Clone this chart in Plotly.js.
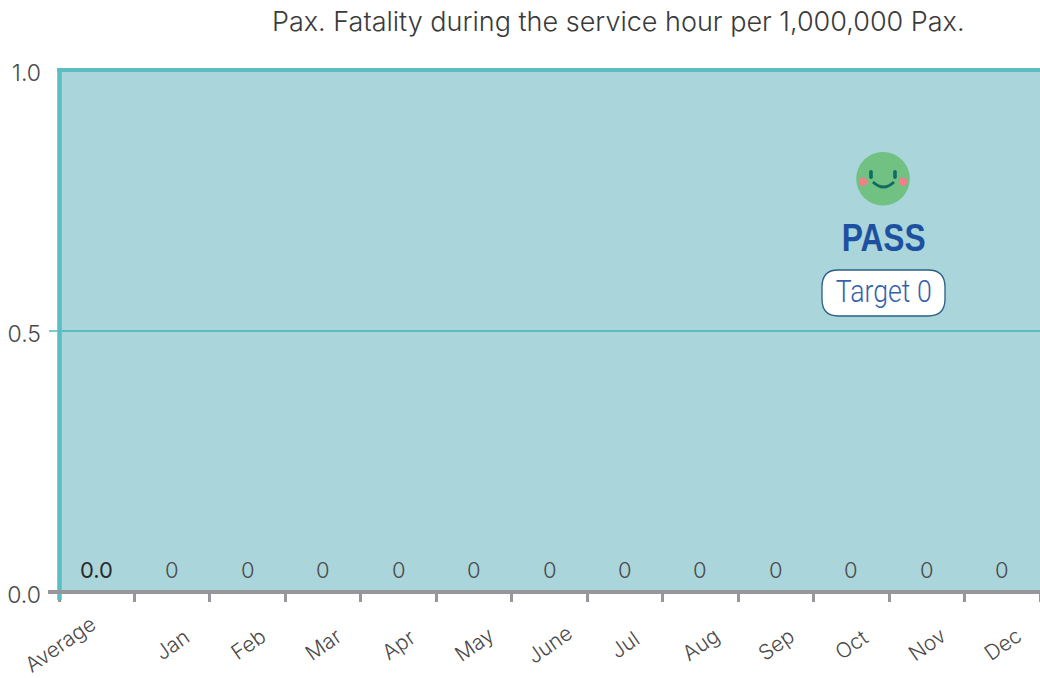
<!DOCTYPE html>
<html><head><meta charset="utf-8">
<script src="https://cdn.plot.ly/plotly-3.0.1.min.js"></script>
<style>html,body{margin:0;padding:0;background:#fff}#c{width:1040px;height:678px}</style>
</head><body><div id="c"></div>
<script>
const categories = ['Average','Jan','Feb','Mar','Apr','May','June','Jul','Aug','Sep','Oct','Nov','Dec'];
const values = [0,0,0,0,0,0,0,0,0,0,0,0,0];
const valueLabels = ['0.0','0','0','0','0','0','0','0','0','0','0','0','0'];
const yTicks = [0,0.5,1];
const yTickLabels = ['0.0','0.5','1.0'];
const chartTitle = 'Pax. Fatality during the service hour per 1,000,000 Pax.';
const passLabel = 'PASS';
const targetLabel = 'Target 0';

const W=1040,H=678,L=59,R=1040,T=70,B=592;
const fx=p=>(p-L)/(R-L), fy=p=>(B-p)/(B-T);
const LIGHT='Inter, "Liberation Sans", sans-serif';
const grey='#4a4a4a';
const SANS='"Liberation Sans", sans-serif';
const TEAL='#5bbcc2', AXIS='#97979b', INK='#0f6b63';

const paperShape=(o)=>Object.assign({xref:'paper',yref:'paper',layer:'above'},o);
const circ=(cx,cy,r,color)=>paperShape({type:'circle',x0:fx(cx-r),x1:fx(cx+r),y0:fy(cy+r),y1:fy(cy-r),fillcolor:color,line:{width:0}});
const seg=(x0,y0,x1,y1,color,w)=>paperShape({type:'line',x0:fx(x0),x1:fx(x1),y0:fy(y0),y1:fy(y1),line:{color:color,width:w}});
const capsule=(cx,y0,y1,r,color)=>paperShape({type:'path',fillcolor:color,line:{width:0},
  path:`M ${fx(cx-r)} ${fy(y0+r)} Q ${fx(cx-r)} ${fy(y0)} ${fx(cx)} ${fy(y0)} Q ${fx(cx+r)} ${fy(y0)} ${fx(cx+r)} ${fy(y0+r)} L ${fx(cx+r)} ${fy(y1-r)} Q ${fx(cx+r)} ${fy(y1)} ${fx(cx)} ${fy(y1)} Q ${fx(cx-r)} ${fy(y1)} ${fx(cx-r)} ${fy(y1-r)} Z`});

const shapes=[
  seg(49,331,59,331,TEAL,1.6),
  seg(59.5,68,59.5,600,TEAL,4.5),
  seg(57,70,1040,70,TEAL,4),
  seg(48,592,1040,592,AXIS,4),
  circ(883,178.7,26.8,'#70c182'),
  circ(863,181.7,4.2,'#f27f88'),
  circ(903,181.7,4.2,'#f27f88'),
  capsule(871,170,179,1.8,INK),
  capsule(895,170,179,1.8,INK),
  paperShape({type:'path',path:`M ${fx(873)} ${fy(182)} Q ${fx(883.5)} ${fy(192)} ${fx(894)} ${fy(182)}`,line:{color:INK,width:3}}),
  paperShape({type:'path',
    path:`M ${fx(838)} ${fy(270)} L ${fx(928)} ${fy(270)} Q ${fx(945)} ${fy(270)} ${fx(945)} ${fy(287)} L ${fx(945)} ${fy(299)} Q ${fx(945)} ${fy(316)} ${fx(928)} ${fy(316)} L ${fx(838)} ${fy(316)} Q ${fx(822)} ${fy(316)} ${fx(822)} ${fy(299)} L ${fx(822)} ${fy(287)} Q ${fx(822)} ${fy(270)} ${fx(838)} ${fy(270)} Z`,
    fillcolor:'#ffffff',line:{color:'#2a5f86',width:1.3}})
];

const annotations=categories.map((c,i)=>({
  x:c,y:values[i],xref:'x',yref:'y',text:valueLabels[i],showarrow:false,xanchor:'center',yanchor:'bottom',yshift:7,
  font:{family:LIGHT,size:22,color:i===0?'#2a2a2a':grey,weight:i===0?400:300}
}));
categories.forEach((c,i)=>annotations.push({
  x:c,y:0,xref:'x',yref:'y',text:c,showarrow:false,xanchor:'center',yanchor:'middle',textangle:-35,
  yshift:-52,xshift:i===0?-37:0,
  font:{family:LIGHT,size:21,color:grey,weight:300}
}));
annotations.push(
 {xref:'paper',yref:'paper',x:fx(883.5),y:fy(237),xanchor:'center',yanchor:'middle',text:'<b>'+passLabel+'</b>',showarrow:false,font:{family:SANS,size:39,color:'#1c50a0'}},
 {xref:'paper',yref:'paper',x:fx(883.5),y:fy(291),xanchor:'center',yanchor:'middle',text:targetLabel,showarrow:false,font:{family:'Roboto, sans-serif',size:31,color:'#3461ab',weight:300}},
 {xref:'paper',yref:'paper',x:fx(618.5),y:fy(21),xanchor:'center',yanchor:'middle',text:chartTitle,showarrow:false,font:{family:LIGHT,size:27,color:'#3a3a3a',weight:300}}
);

Plotly.newPlot('c',[{type:'bar',x:categories,y:values,marker:{color:TEAL},hoverinfo:'x+y'}],{
  width:W,height:H,showlegend:false,paper_bgcolor:'#fff',plot_bgcolor:'#aad5da',
  margin:{l:L,r:W-R,t:T,b:H-B,pad:0},
  xaxis:{type:'category',categoryorder:'array',categoryarray:categories,range:[-0.5,12.5],tickson:'boundaries',
    ticks:'outside',ticklen:9,tickwidth:3,tickcolor:AXIS,showticklabels:false,showgrid:false,zeroline:false,showline:false,automargin:false},
  yaxis:{range:[0,1],tickvals:yTicks,ticktext:yTickLabels,ticks:'',ticklabelshift:3,ticklabelstandoff:17,
    tickfont:{family:LIGHT,size:23,color:grey,weight:300},showgrid:true,gridcolor:TEAL,gridwidth:1.6,zeroline:false,showline:false,automargin:false},
  shapes:shapes,annotations:annotations
},{displayModeBar:false,responsive:false}).then(()=>{
  const narrow={[passLabel]:84,[targetLabel]:96};
  document.querySelectorAll('#c text.annotation-text').forEach(t=>{
    const w=narrow[t.textContent];
    if(!w) return;
    const b=t.getBBox(), cx=b.x+b.width/2;
    t.setAttribute('transform',`translate(${cx} 0) scale(${w/b.width} 1) translate(${-cx} 0)`);
  });
});
</script></body></html>
